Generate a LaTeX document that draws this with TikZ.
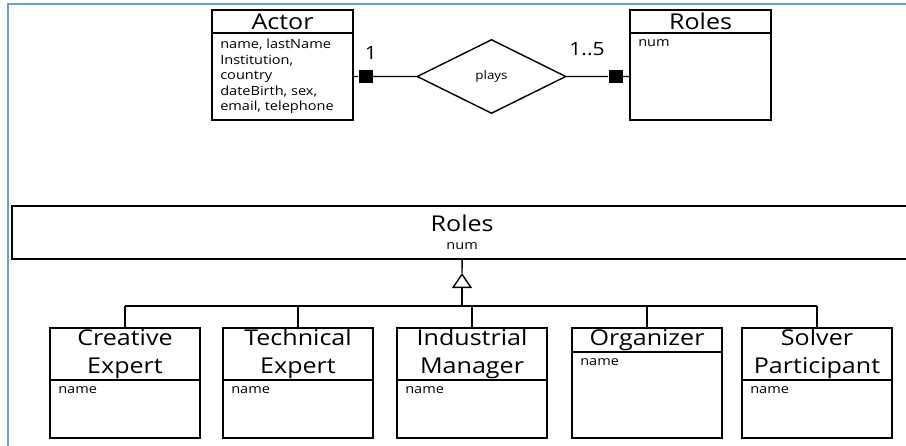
\documentclass[tikz,border=0pt]{standalone}
\usepackage{fontspec}
\setmainfont{Open Sans}[FakeStretch=1.15]
\usetikzlibrary{arrows.meta,positioning,shapes.geometric}
\definecolor{frameblue}{RGB}{100,160,220}

\begin{document}
\begin{tikzpicture}[
  x=0.025cm, y=-0.025cm,
  head/.style={draw,rectangle,line width=1.3pt,inner sep=0pt,outer sep=0pt,align=center,font=\fontsize{15.5}{20}\selectfont},
  body/.style={draw,rectangle,line width=1.3pt,inner sep=0pt,outer sep=0pt},
  attr/.style={anchor=north west,align=left,inner xsep=0.2cm,inner ysep=0.15cm,font=\fontsize{9}{11}\selectfont},
  rel/.style={draw,diamond,line width=1pt,minimum width=3.725cm,minimum height=1.85cm,inner sep=0pt,font=\fontsize{8.3}{9}\selectfont},
  sqr/.style={fill=black,rectangle,minimum width=0.35cm,minimum height=0.3cm,inner sep=0pt},
  mult/.style={font=\fontsize{13}{15}\selectfont,inner sep=0pt},
  conn/.style={line width=1pt},
  inh/.style={-{Triangle[open,length=0.375cm,width=0.5cm]},line width=1pt}
]
\useasboundingbox (0,0) rectangle (906,446);
\draw[frameblue,line width=1.6pt] (906,4) -- (8,4) -- (8,446);

% entity / relationship part
\node[head,minimum width=3.525cm,minimum height=0.575cm,anchor=north west] (actorT) at (212,10) {Actor};
\node[body,minimum width=3.525cm,minimum height=2.175cm,below=0pt of actorT,
  label={[attr]north west:{name, lastName\\Institution,\\country\\dateBirth, sex,\\email, telephone}}] (actorB) {};
\node[head,minimum width=3.525cm,minimum height=0.575cm,anchor=north west] (rolesT) at (630,10) {Roles};
\node[body,minimum width=3.525cm,minimum height=2.175cm,below=0pt of rolesT,
  label={[attr]north west:{num}}] (rolesB) {};

\node[rel] (plays) at (491.5,76.5) {plays};
\node[sqr] (sqA) at (365.5,76.5) {};
\node[sqr] (sqR) at (615.5,76.5) {};
\node[mult] (mA) at (371,53) {1};
\node[mult] (mR) at (587,49) {1..5};

\draw[conn] (actorB) -- (sqA) -- (plays) -- (sqR) -- (rolesB);

% generalisation part
\node[head,minimum width=22.5cm,minimum height=1.325cm,anchor=north west] (rolesG) at (12,206)
  {Roles\\[-7pt]{\fontsize{9}{11}\selectfont num}};

\node[head,minimum width=3.75cm,minimum height=1.3cm,anchor=north west] (ceT) at (50,328) {Creative\\Expert};
\node[body,minimum width=3.75cm,minimum height=1.45cm,below=0pt of ceT,label={[attr]north west:{name}}] (ceB) {};
\node[head,minimum width=3.75cm,minimum height=1.3cm,anchor=north west] (teT) at (223,328) {Technical\\Expert};
\node[body,minimum width=3.75cm,minimum height=1.45cm,below=0pt of teT,label={[attr]north west:{name}}] (teB) {};
\node[head,minimum width=3.75cm,minimum height=1.3cm,anchor=north west] (imT) at (397,328) {Industrial\\Manager};
\node[body,minimum width=3.75cm,minimum height=1.45cm,below=0pt of imT,label={[attr]north west:{name}}] (imB) {};
\node[head,minimum width=3.75cm,minimum height=0.6cm,anchor=north west] (orgT) at (572,328) {Organizer};
\node[body,minimum width=3.75cm,minimum height=2.15cm,below=0pt of orgT,label={[attr]north west:{name}}] (orgB) {};
\node[head,minimum width=3.75cm,minimum height=1.3cm,anchor=north west] (spT) at (742,328) {Solver\\Participant};
\node[body,minimum width=3.75cm,minimum height=1.45cm,below=0pt of spT,label={[attr]north west:{name}}] (spB) {};

\coordinate (apex) at (462,273);
\coordinate (bus) at (462,306);
\draw[conn] (rolesG.south) -- (apex);
\draw[inh] (bus) -- (apex);
\draw[conn] (ceT.north |- bus) -- (spT.north |- bus);
\foreach \n in {ceT,teT,imT,orgT,spT}
  \draw[conn] (\n.north |- bus) -- (\n.north);

\end{tikzpicture}
\end{document}
